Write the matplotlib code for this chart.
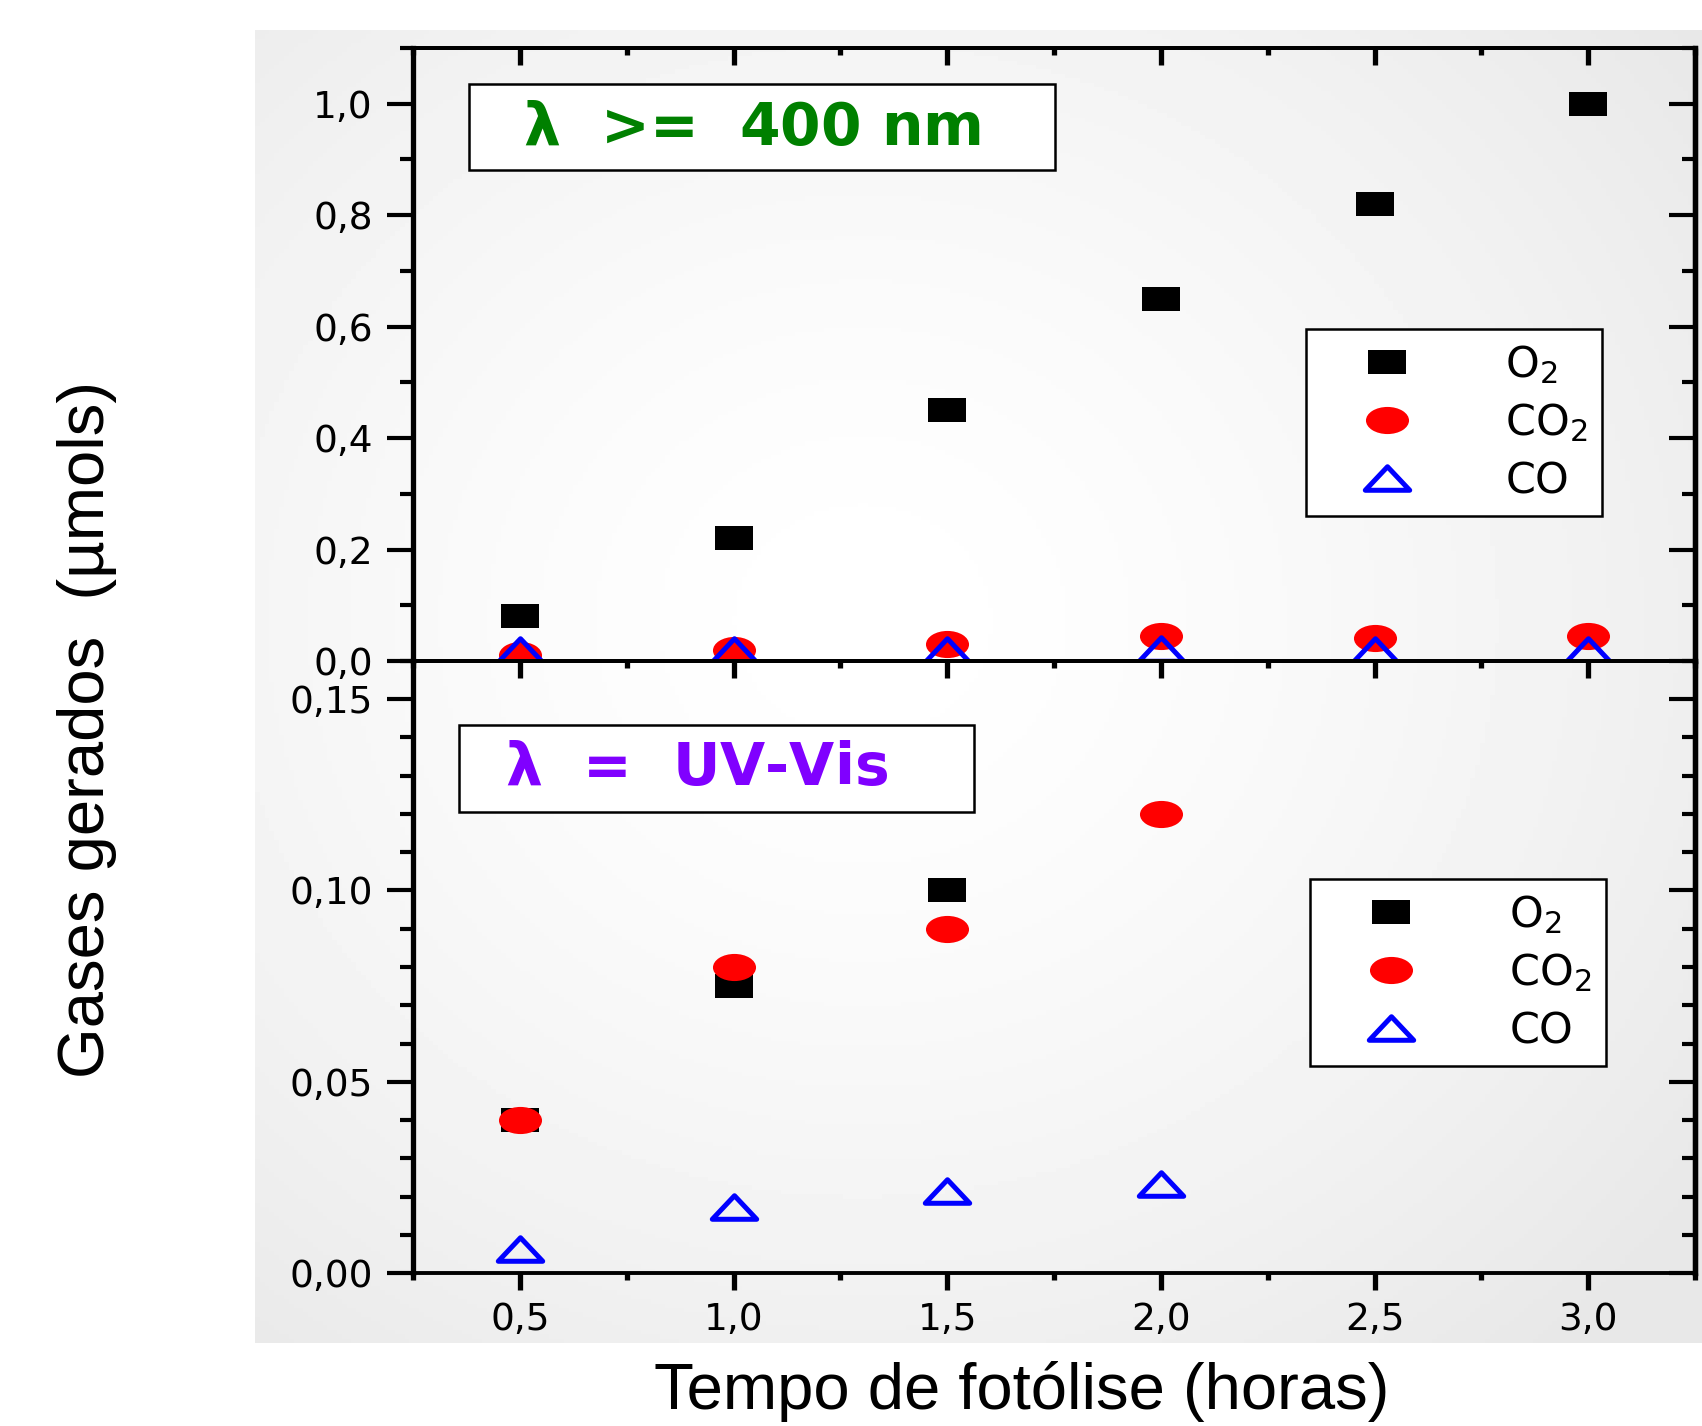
import matplotlib
matplotlib.use("Agg")
import matplotlib.pyplot as plt
import numpy as np
from matplotlib.path import Path
from matplotlib.patches import Rectangle
from matplotlib.ticker import MultipleLocator, FuncFormatter

# Data (umols)
tempo = [0.5, 1.0, 1.5, 2.0, 2.5, 3.0]
o2_vis = [0.08, 0.22, 0.45, 0.65, 0.82, 1.0]
co2_vis = [0.011, 0.019, 0.031, 0.045, 0.041, 0.044]
co_vis = [0.02, 0.02, 0.02, 0.021, 0.02, 0.02]

tempo_uv = [0.5, 1.0, 1.5, 2.0]
o2_uv = [0.04, 0.075, 0.10]
co2_uv = [0.04, 0.08, 0.09, 0.12]
co_uv = [0.0063, 0.0173, 0.0214, 0.0232]

labels = ["O$_2$", "CO$_2$", "CO"]

plt.rcParams["mathtext.default"] = "regular"
plt.rcParams["font.family"] = "DejaVu Sans"

# wide markers (the original picture is stretched sideways)
sq = Path([(-1, -0.62), (1, -0.62), (1, 0.62), (-1, 0.62), (-1, -0.62)],
          [Path.MOVETO, Path.LINETO, Path.LINETO, Path.LINETO, Path.CLOSEPOLY])
uc = Path.unit_circle()
ell = Path(uc.vertices * np.array([1.0, 0.63]), uc.codes)
tri = Path([(0, 0.53), (-1, -0.53), (1, -0.53), (0, 0.53)],
           [Path.MOVETO, Path.LINETO, Path.LINETO, Path.CLOSEPOLY])

W, H = 1702, 1426
fig = plt.figure(figsize=(W / 100, H / 100), dpi=100)

# soft grey background behind the plot
bg = fig.add_axes([255 / W, 1 - 1343 / H, (W - 255) / W, (1343 - 30) / H], zorder=-10)
gx, gy = np.meshgrid(np.linspace(0, 1, 300), np.linspace(0, 1, 300))
r = np.sqrt(((gx - 0.42) / 0.72) ** 2 + ((gy - 0.45) / 0.72) ** 2)
bg.imshow(1 - 0.09 * np.clip(r, 0, 1) ** 1.5, cmap="gray", vmin=0, vmax=1,
          aspect="auto", extent=(0, 1, 1, 0))
bg.axis("off")

left, width = 413 / W, 1282 / W
ax1 = fig.add_axes([left, 1 - 661 / H, width, 613 / H])
ax2 = fig.add_axes([left, 1 - 1273 / H, width, 612 / H])


def style(ax, ymajor, yminor, fmt, xlabels):
    ax.set_facecolor("none")
    ax.set_xlim(0.25, 3.25)
    ax.xaxis.set_major_locator(MultipleLocator(0.5))
    ax.xaxis.set_minor_locator(MultipleLocator(0.25))
    ax.yaxis.set_major_locator(MultipleLocator(ymajor))
    ax.yaxis.set_minor_locator(MultipleLocator(yminor))
    ax.xaxis.set_major_formatter(FuncFormatter(lambda v, p: f"{v:.1f}".replace(".", ",")))
    ax.yaxis.set_major_formatter(FuncFormatter(lambda v, p: fmt.format(v).replace(".", ",")))
    for s in ["left", "right"]:
        ax.spines[s].set_linewidth(3.8)
    for s in ["top", "bottom"]:
        ax.spines[s].set_linewidth(2.8)
    ax.tick_params(axis="y", which="major", direction="out", length=19, width=3,
                   labelsize=27, pad=10)
    ax.tick_params(axis="y", which="minor", direction="out", length=9.5, width=3)
    ax.tick_params(axis="x", which="major", direction="out", length=12, width=3.8,
                   labelsize=27, pad=9, labelbottom=xlabels)
    ax.tick_params(axis="x", which="minor", direction="out", length=5, width=3.8)
    ry = ax.secondary_yaxis("right")
    ry.yaxis.set_major_locator(MultipleLocator(ymajor))
    ry.yaxis.set_minor_locator(MultipleLocator(yminor))
    ry.spines["right"].set_linewidth(3.8)
    ry.tick_params(which="major", direction="in", length=19, width=3, labelright=False)
    ry.tick_params(which="minor", direction="in", length=9.5, width=3)


style(ax1, 0.2, 0.1, "{:.1f}", False)
style(ax2, 0.05, 0.01, "{:.2f}", True)
ax1.set_ylim(0, 1.1)
ax2.set_ylim(0, 0.16)

tx = ax1.secondary_xaxis("top")
tx.xaxis.set_major_locator(MultipleLocator(0.5))
tx.xaxis.set_minor_locator(MultipleLocator(0.25))
tx.spines["top"].set_linewidth(2.8)
tx.tick_params(which="major", direction="in", length=12, width=3.8, labeltop=False)
tx.tick_params(which="minor", direction="in", length=5, width=3.8)

mk = dict(linestyle="none")
for ax, xs, o2, co2, co in [(ax1, tempo, o2_vis, co2_vis, co_vis),
                            (ax2, tempo_uv, o2_uv, co2_uv, co_uv)]:
    ax.plot(xs[:len(o2)], o2, marker=sq, ms=28, color="black", mew=0,
            label=labels[0], **mk)
    ax.plot(xs[:len(co2)], co2, marker=ell, ms=31, color="#ff0000", mew=0,
            label=labels[1], **mk)
    ax.plot(xs[:len(co)], co, marker=tri, ms=32, mfc="none", mec="#0000ff", mew=3.6,
            label=labels[2], **mk)

leg_kw = dict(loc="upper left", borderaxespad=0, fontsize=31, numpoints=1,
              fancybox=False, framealpha=1, edgecolor="black", borderpad=0.33,
              handlelength=3.1, handletextpad=1.2, labelspacing=0.36)
l1 = ax1.legend(bbox_to_anchor=(0.6966, 0.5416), **leg_kw)
l2 = ax2.legend(bbox_to_anchor=(0.6997, 0.6438), **leg_kw)
for leg in (l1, l2):
    leg.get_frame().set_linewidth(1.8)

# condition boxes
ax1.add_patch(Rectangle((0.0437, 0.801), 0.4571, 0.141, transform=ax1.transAxes,
                        facecolor="white", edgecolor="black", lw=1.8, zorder=3))
ax1.text(0.0858, 0.869, r"$\lambda$  >=  400 nm", transform=ax1.transAxes,
         fontsize=42, fontweight="bold", color="#008000", va="center", ha="left",
         zorder=4)
ax2.add_patch(Rectangle((0.0359, 0.7533), 0.4017, 0.1421, transform=ax2.transAxes,
                        facecolor="white", edgecolor="black", lw=1.8, zorder=3))
ax2.text(0.0718, 0.824, r"$\lambda$  =  UV-Vis", transform=ax2.transAxes,
         fontsize=42, fontweight="bold", color="#8000ff", va="center", ha="left",
         zorder=4)

fig.text(1022 / W, 1 - 1392 / H, "Tempo de fotólise (horas)", fontsize=47,
         family="Liberation Sans", ha="center", va="center")
fig.text(87 / W, 1 - 730 / H, "Gases gerados  (µmols)", fontsize=47,
         family="Liberation Sans", rotation=90, ha="center", va="center")

fig.savefig("out.png", dpi=100)
